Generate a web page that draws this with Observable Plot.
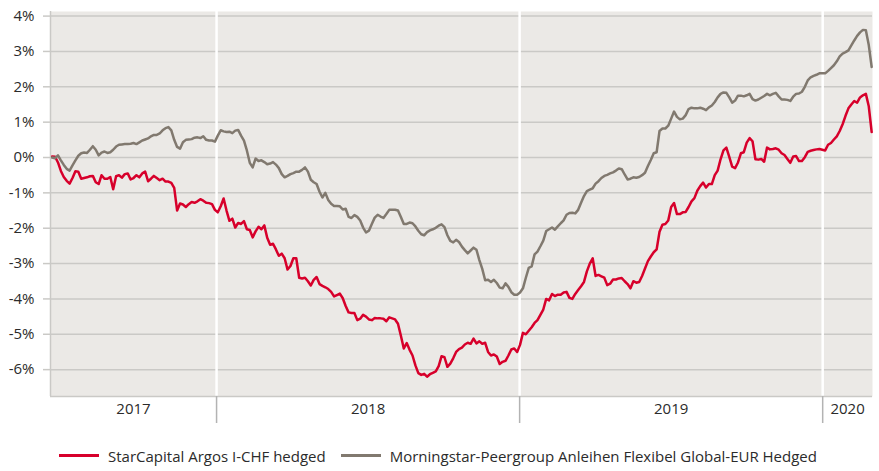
<!DOCTYPE html>
<html>
<head>
<meta charset="utf-8">
<script src="https://cdn.jsdelivr.net/npm/d3@7"></script>
<script src="https://cdn.jsdelivr.net/npm/@observablehq/plot@0.6"></script>
<style>
  html, body { margin: 0; padding: 0; background: #fff; }
  body { width: 879px; height: 471px; overflow: hidden; font-family: "Open Sans", sans-serif; color: #2b2b2b; }
  #legend { position: relative; height: 31px; display: flex; align-items: center; padding-left: 59px; font-size: 15px; }
  .sw { width: 40px; height: 3px; margin-right: 9px; }
  .item { display: flex; align-items: center; margin-right: 15px; white-space: nowrap; }
</style>
</head>
<body>
<div id="chart"></div>
<div id="legend"></div>
<script>
const seriesNames = ["StarCapital Argos I-CHF hedged", "Morningstar-Peergroup Anleihen Flexibel Global-EUR Hedged"];
const seriesColors = ["#d7002b", "#81796f"];
const firstObservation = "2017-06-17";
const stepHours = 84; // 3.5 days between observations
const xDomain = ["2017-06-15", "2020-03-01"];
const yDomain = [-6.76, 4.13];
const yTicks = [-6, -5, -4, -3, -2, -1, 0, 1, 2, 3, 4];
const yearStarts = ["2018-01-01", "2019-01-01", "2020-01-01"];
const yearLabels = ["2017", "2018", "2019", "2020"];

const starCapital = [
  0.03, 0.02, -0.14, -0.38, -0.55, -0.66, -0.74, -0.58, -0.39, -0.4,
  -0.6, -0.58, -0.56, -0.53, -0.52, -0.7, -0.75, -0.5, -0.6, -0.6,
  -0.55, -0.9, -0.53, -0.5, -0.57, -0.47, -0.45, -0.62, -0.58, -0.5,
  -0.56, -0.45, -0.4, -0.67, -0.6, -0.52, -0.58, -0.64, -0.6, -0.68,
  -0.68, -0.72, -0.86, -1.5, -1.3, -1.33, -1.4, -1.32, -1.26, -1.28,
  -1.24, -1.18, -1.22, -1.28, -1.29, -1.32, -1.48, -1.55, -1.38, -1.16,
  -1.5, -1.79, -1.73, -1.98, -1.85, -1.88, -1.8, -2.03, -2.05, -2.26,
  -2.09, -1.96, -2.03, -1.92, -2.27, -2.47, -2.44, -2.6, -2.78, -2.72,
  -2.85, -3.17, -3.07, -2.85, -2.85, -3.4, -3.42, -3.4, -3.5, -3.62,
  -3.46, -3.38, -3.58, -3.63, -3.67, -3.72, -3.8, -3.93, -3.89, -3.85,
  -3.98, -4.2, -4.38, -4.4, -4.4, -4.6, -4.56, -4.45, -4.5, -4.58,
  -4.6, -4.54, -4.55, -4.55, -4.56, -4.63, -4.52, -4.55, -4.58, -4.7,
  -5.04, -5.4, -5.25, -5.44, -5.6, -5.88, -6.1, -6.15, -6.12, -6.2,
  -6.13, -6.09, -6.05, -5.9, -5.62, -5.65, -5.92, -5.83, -5.68, -5.5,
  -5.42, -5.38, -5.29, -5.24, -5.27, -5.12, -5.26, -5.2, -5.27, -5.24,
  -5.5, -5.6, -5.57, -5.63, -5.84, -5.78, -5.75, -5.6, -5.43, -5.4,
  -5.5, -5.3, -4.96, -5.0, -4.9, -4.8, -4.68, -4.6, -4.45, -4.3,
  -4.0, -4.04, -3.86, -3.92, -3.88, -3.88, -3.82, -3.8, -3.97, -4.0,
  -3.86, -3.75, -3.64, -3.52, -3.22, -3.0, -2.85, -3.35, -3.32, -3.36,
  -3.4, -3.61, -3.57, -3.45, -3.45, -3.42, -3.41, -3.5, -3.58, -3.7,
  -3.5, -3.54, -3.52, -3.35, -3.14, -2.93, -2.8, -2.68, -2.6, -2.1,
  -1.9, -1.88, -1.78, -1.4, -1.29, -1.6, -1.6, -1.55, -1.54, -1.4,
  -1.24, -1.15, -0.94, -0.81, -0.71, -0.85, -0.75, -0.75, -0.5, -0.37,
  -0.05, 0.2, 0.28, 0.02, -0.26, -0.3, -0.14, 0.12, 0.15, 0.42,
  0.55, 0.46, -0.05, -0.06, -0.04, -0.12, 0.28, 0.23, 0.24, 0.26,
  0.22, 0.12, 0.07, -0.04, -0.15, 0.03, 0.04, -0.1, -0.1, 0.01,
  0.16, 0.19, 0.21, 0.23, 0.24, 0.22, 0.2, 0.36, 0.41, 0.51,
  0.6, 0.75, 0.94, 1.18, 1.39, 1.5, 1.6, 1.55, 1.7, 1.76,
  1.8, 1.45, 0.72
];

const peergroup = [
  0.0, -0.02, 0.06, -0.08, -0.21, -0.32, -0.37, -0.22, -0.08, 0.05,
  0.12, 0.14, 0.13, 0.22, 0.32, 0.22, 0.06, 0.14, 0.17, 0.13,
  0.15, 0.22, 0.31, 0.36, 0.37, 0.38, 0.38, 0.39, 0.41, 0.38,
  0.43, 0.48, 0.51, 0.54, 0.6, 0.64, 0.64, 0.68, 0.77, 0.83,
  0.86, 0.77, 0.5, 0.3, 0.25, 0.43, 0.5, 0.51, 0.52, 0.56,
  0.57, 0.55, 0.6, 0.5, 0.48, 0.48, 0.45, 0.62, 0.77, 0.74,
  0.72, 0.73, 0.69, 0.76, 0.78, 0.62, 0.48, 0.2, -0.15, -0.28,
  -0.03, -0.1, -0.08, -0.13, -0.19, -0.17, -0.13, -0.2, -0.3, -0.47,
  -0.56, -0.52, -0.47, -0.44, -0.4, -0.4, -0.35, -0.28, -0.4, -0.63,
  -0.7, -0.75, -0.97, -1.13, -1.0, -1.2, -1.31, -1.37, -1.37, -1.38,
  -1.47, -1.45, -1.68, -1.71, -1.63, -1.68, -1.78, -1.98, -2.12, -2.07,
  -1.88, -1.7, -1.62, -1.67, -1.71, -1.6, -1.48, -1.48, -1.48, -1.5,
  -1.68, -1.88, -1.88, -1.84, -1.86, -1.95, -2.07, -2.17, -2.2, -2.11,
  -2.06, -2.03, -1.99, -1.93, -1.89, -1.97, -2.2, -2.36, -2.4, -2.33,
  -2.39, -2.52, -2.62, -2.71, -2.63, -2.55, -2.61, -2.9, -3.15, -3.47,
  -3.46, -3.52, -3.46, -3.55, -3.68, -3.7, -3.56, -3.66, -3.81, -3.88,
  -3.88, -3.82, -3.7, -3.4, -3.12, -3.08, -2.74, -2.66, -2.51, -2.35,
  -2.08, -2.03, -1.98, -2.04, -1.95, -1.86, -1.78, -1.62, -1.57, -1.56,
  -1.58, -1.48, -1.28, -1.09, -0.95, -0.91, -0.87, -0.74, -0.67, -0.58,
  -0.52, -0.49, -0.45, -0.42, -0.37, -0.31, -0.33, -0.48, -0.62, -0.6,
  -0.56, -0.57, -0.55, -0.5, -0.43, -0.24, -0.07, 0.12, 0.15, 0.75,
  0.82, 0.82, 0.9, 1.1, 1.3, 1.15, 1.08, 1.1, 1.2, 1.37,
  1.41, 1.39, 1.39, 1.41, 1.38, 1.34, 1.42, 1.47, 1.57, 1.7,
  1.8, 1.84, 1.83, 1.7, 1.55, 1.61, 1.75, 1.75, 1.73, 1.76,
  1.8, 1.65, 1.61, 1.64, 1.69, 1.74, 1.8, 1.76, 1.8, 1.83,
  1.73, 1.64, 1.64, 1.63, 1.6, 1.72, 1.8, 1.81, 1.86, 2.0,
  2.18, 2.27, 2.31, 2.34, 2.38, 2.38, 2.38, 2.45, 2.53, 2.61,
  2.72, 2.86, 2.94, 2.98, 3.03, 3.17, 3.31, 3.44, 3.54, 3.61,
  3.6, 3.18, 2.56
];

// ---- build table ----
const start = new Date(firstObservation);
const dates = starCapital.map((_, i) => d3.utcHour.offset(start, stepHours * i));
const table = [];
[starCapital, peergroup].forEach((vals, s) => vals.forEach((v, i) => table.push({date: dates[i], value: v, s})));

const xd = xDomain.map(d => new Date(d));
const ys = yearStarts.map(d => new Date(d));
const bounds = [xd[0], ...ys, xd[1]];
const labelRows = yearLabels.map((t, i) => ({label: t, date: new Date((+bounds[i] + +bounds[i + 1]) / 2)}));

const grid = "#cac9c6";
const fontFamily = '"Open Sans", sans-serif';

const chart = Plot.plot({
  width: 879,
  height: 440,
  marginLeft: 50,
  marginRight: 7,
  marginTop: 11,
  marginBottom: 44,
  style: {fontFamily, fontSize: "15px", color: "#2b2b2b", background: "transparent", overflow: "visible"},
  x: {type: "utc", domain: xd, axis: null},
  y: {domain: yDomain, axis: null},
  marks: [
    Plot.frame({fill: "#ebe9e6", stroke: null}),
    Plot.gridY(yTicks, {stroke: grid, strokeOpacity: 1, strokeWidth: 1.5}),
    Plot.axisY(yTicks, {label: null, tickSize: 7, tickPadding: 9, stroke: grid, strokeWidth: 1.5, fill: "#2b2b2b", fontSize: 15, tickFormat: d => d + "%"}),
    Plot.ruleX(ys, {stroke: "#ffffff", strokeWidth: 2.5}),
    Plot.ruleX([xd[0]], {stroke: grid, strokeWidth: 1.5}),
    Plot.ruleY([yDomain[0]], {stroke: grid, strokeWidth: 1.5}),
    Plot.axisX(ys, {label: null, tickSize: 27, stroke: "#b3b3b3", strokeWidth: 1.5, tickFormat: () => ""}),
    Plot.text(labelRows, {x: "date", text: "label", frameAnchor: "bottom", dy: 17, fontSize: 15, fill: "#2b2b2b"}),
    Plot.line(table, {x: "date", y: "value", z: "s", stroke: d => seriesColors[d.s], strokeWidth: 2.5, strokeLinejoin: "round"})
  ]
});
document.getElementById("chart").appendChild(chart);

// ---- legend ----
const legend = document.getElementById("legend");
seriesNames.forEach((name, i) => {
  const item = document.createElement("div");
  item.className = "item";
  const sw = document.createElement("div");
  sw.className = "sw";
  sw.style.background = seriesColors[i];
  const tx = document.createElement("span");
  tx.textContent = name;
  item.appendChild(sw);
  item.appendChild(tx);
  legend.appendChild(item);
});
</script>
</body>
</html>
